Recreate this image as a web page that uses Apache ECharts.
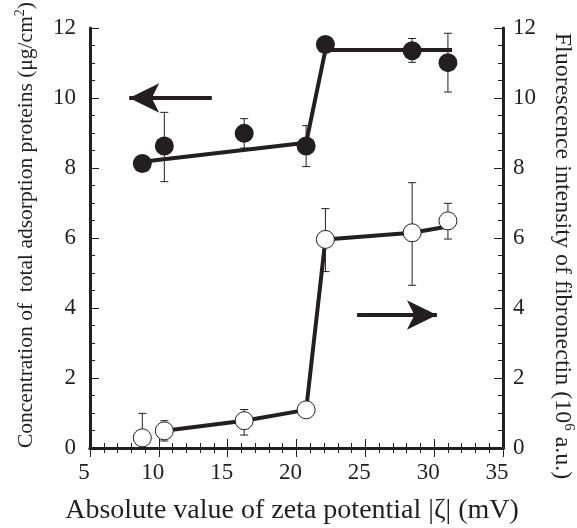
<!DOCTYPE html>
<html><head><meta charset="utf-8">
<script src="https://cdn.jsdelivr.net/npm/echarts@6/dist/echarts.min.js"></script>
<style>html,body{margin:0;padding:0;background:#fff}#c{width:577px;height:528px}</style>
</head><body><div id="c"></div>
<script>
// ---- data ----
const zeta = [8.8, 10.4, 16.2, 20.7, 22.1, 28.4, 31.0];
const protein = [8.13, 8.63, 8.99, 8.63, 11.53, 11.35, 11.01];
const proteinLow = [null, 7.61, 8.57, 8.04, null, 11.02, 10.17];
const proteinHigh = [null, 9.59, 9.41, 9.21, null, 11.70, 11.85];
const fluor = [0.29, 0.49, 0.78, 1.09, 5.96, 6.15, 6.49];
const fluorLow = [0, 0.20, 0.37, null, 5.04, 4.65, 5.97];
const fluorHigh = [0.99, 0.78, 1.10, null, 6.84, 7.58, 6.99];
// trend lines
const proteinFitX = [8.8, 20.7, 22.1, 31.3];
const proteinFitY = [8.18, 8.72, 11.37, 11.37];
const fluorFitX = [10.4, 16.2, 20.7, 22.1, 28.4, 31.3];
const fluorFitY = [0.49, 0.78, 1.09, 5.96, 6.15, 6.35];
// arrows: [xFrom, xTo, y]
const leftArrow = [13.85, 7.85, 10];
const rightArrow = [24.4, 30.2, 3.8];
// axis settings
const xMin = 5, xMax = 35, xStep = 5;
const yMin = 0, yMax = 12, yStep = 2;
// titles
const xTitle = 'Absolute value of zeta potential |ζ| (mV)';
const yLeftTitle = ['Concentration of  total adsorption proteins (μg/cm', '2', ')'];
const yRightTitle = ['Fluorescence intensity of fibronectin (10', '6', ' a.u.)'];

const INK = '#231f20';
const FONT = '"Liberation Serif", "Times New Roman", serif';

function pairs(xs, ys) { return xs.map((x, i) => [x, ys[i]]); }

function errSeries(xs, lo, hi, yAxisIndex) {
  const data = xs.map((x, i) => [x, lo[i], hi[i]]).filter(d => d[1] != null);
  return {
    type: 'custom', yAxisIndex, data, z: 2, silent: true,
    encode: { x: 0, y: [1, 2] },
    renderItem(params, api) {
      const x = api.value(0);
      const p1 = api.coord([x, api.value(1)]);
      const p2 = api.coord([x, api.value(2)]);
      const w = 4;
      const st = { stroke: INK, lineWidth: 1 };
      return { type: 'group', children: [
        { type: 'line', shape: { x1: p1[0], y1: p1[1], x2: p2[0], y2: p2[1] }, style: st },
        { type: 'line', shape: { x1: p1[0] - w, y1: p1[1], x2: p1[0] + w, y2: p1[1] }, style: st },
        { type: 'line', shape: { x1: p2[0] - w, y1: p2[1], x2: p2[0] + w, y2: p2[1] }, style: st }
      ]};
    }
  };
}

const axisLine = { show: true, lineStyle: { color: INK, width: 3 } };
const labelStyle = { color: INK, fontFamily: FONT, fontSize: 23 };

function xAxis(pos, showLabel) {
  return {
    type: 'value', position: pos, min: xMin, max: xMax, interval: xStep,
    axisLine, splitLine: { show: false },
    axisTick: { show: true, inside: true, length: 9, lineStyle: { color: INK, width: 1 } },
    minorTick: { show: true, splitNumber: 5, length: 5, lineStyle: { color: INK, width: 1 } },
    axisLabel: Object.assign({ show: showLabel, margin: 13, padding: [0, 12, 0, 0] }, labelStyle)
  };
}
function yAxis(pos, margin) {
  return {
    type: 'value', position: pos, min: yMin, max: yMax, interval: yStep,
    axisLine, splitLine: { show: false },
    axisTick: { show: true, inside: true, length: 9, lineStyle: { color: INK, width: 1 } },
    minorTick: { show: true, splitNumber: 4, length: 5, lineStyle: { color: INK, width: 1 } },
    axisLabel: Object.assign({ margin, padding: [0, 0, 8, 0] }, labelStyle)
  };
}
function richTitle(parts, size, supSize) {
  return {
    text: '{n|' + parts[0] + '}{s|' + parts[1] + '}{n|' + parts[2] + '}',
    rich: {
      n: { fontFamily: FONT, fontSize: size, lineHeight: size + 4, fill: INK },
      s: { fontFamily: FONT, fontSize: supSize, lineHeight: supSize, verticalAlign: 'top', fill: INK }
    },
    align: 'center', verticalAlign: 'middle', fill: INK
  };
}

const chart = echarts.init(document.getElementById('c'), null, { renderer: 'canvas' });
chart.setOption({
  animation: false,
  backgroundColor: '#fff',
  grid: { left: 90, right: 74, top: 28, bottom: 80, outerBoundsMode: 'none', containLabel: false },
  xAxis: [xAxis('bottom', true), xAxis('top', false)],
  yAxis: [yAxis('left', 14), yAxis('right', 10)],
  graphic: [
    { type: 'text', x: 292, y: 511, silent: true,
      style: { text: xTitle, fontFamily: FONT, fontSize: 28, fill: INK, align: 'center', verticalAlign: 'middle' } },
    { type: 'text', x: 26, y: 225, rotation: Math.PI / 2, silent: true,
      style: richTitle(yLeftTitle, 21.5, 14) },
    { type: 'text', x: 562, y: 256, rotation: -Math.PI / 2, silent: true,
      style: richTitle(yRightTitle, 24, 15) }
  ],
  series: [
    { type: 'line', data: pairs(proteinFitX, proteinFitY), showSymbol: false, z: 1, silent: true,
      lineStyle: { color: INK, width: 4 } },
    { type: 'line', yAxisIndex: 1, data: pairs(fluorFitX, fluorFitY), showSymbol: false, z: 1, silent: true,
      lineStyle: { color: INK, width: 4 } },
    errSeries(zeta, proteinLow, proteinHigh, 0),
    errSeries(zeta, fluorLow, fluorHigh, 1),
    { type: 'scatter', data: pairs(zeta, protein), symbol: 'circle', symbolSize: 19, z: 5,
      itemStyle: { color: INK, opacity: 1 } },
    { type: 'scatter', yAxisIndex: 1, data: pairs(zeta, fluor), symbol: 'circle', symbolSize: 18, z: 5,
      itemStyle: { color: '#fff', borderColor: INK, borderWidth: 1, opacity: 1 } },
    { type: 'line', data: [], z: 3,
      markLine: {
        silent: true, symbol: ['none', 'arrow'], symbolSize: [22, 30],
        lineStyle: { color: INK, width: 4, type: 'solid' }, label: { show: false },
        data: [
          [{ coord: [leftArrow[0], leftArrow[2]] }, { coord: [leftArrow[1], leftArrow[2]] }],
          [{ coord: [rightArrow[0], rightArrow[2]] }, { coord: [rightArrow[1], rightArrow[2]] }]
        ]
      } }
  ]
});
</script></body></html>
